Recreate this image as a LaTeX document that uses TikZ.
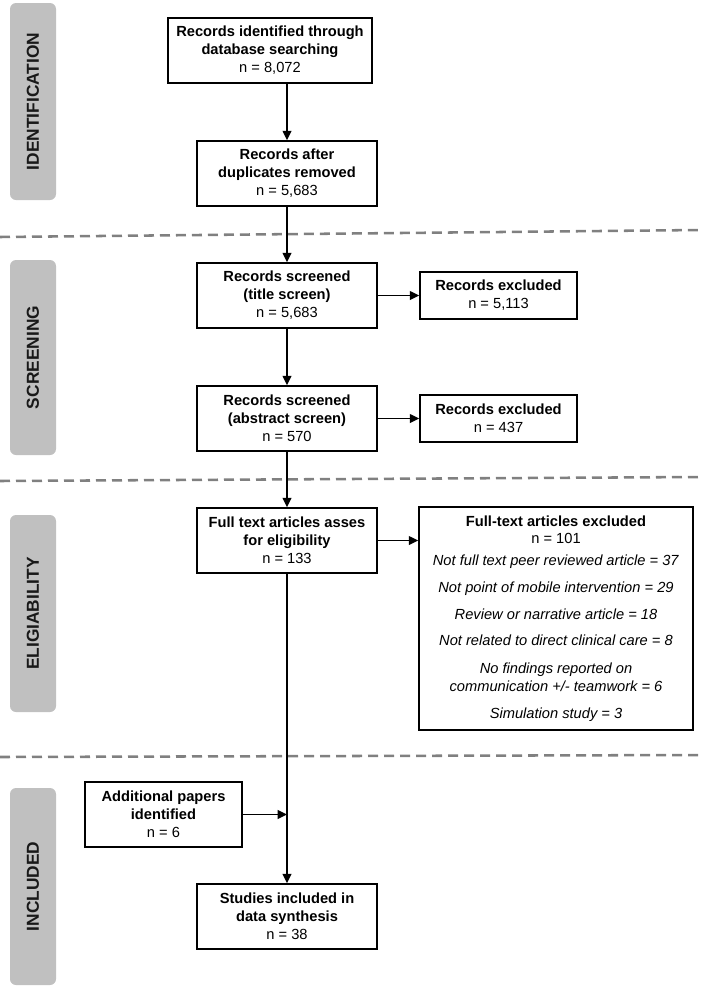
\documentclass[tikz,border=0pt]{standalone}
\usepackage{fontspec}
\setmainfont{Liberation Sans}
\usetikzlibrary{arrows.meta}
\definecolor{panelgray}{RGB}{192,192,192}
\definecolor{dashgray}{RGB}{128,128,128}
\begin{document}
\begin{tikzpicture}[x=0.75pt,y=-0.75pt,
  box/.style={draw, line width=1.2pt, align=center, inner sep=0pt,
    font=\fontsize{11}{13.5}\selectfont, fill=white},
  wide/.style={box, minimum width=153pt, minimum height=48.75pt},
  main/.style={box, minimum width=135pt, minimum height=48.75pt},
  side/.style={box, minimum width=117.75pt, minimum height=35.25pt},
  sidetall/.style={box, minimum width=117.75pt, minimum height=48.75pt},
  panel/.style={fill=panelgray, rounded corners=4.5pt, rotate=90,
    minimum width=147.75pt, minimum height=34.5pt, inner sep=0pt,
    font=\bfseries\fontsize{13}{15}\selectfont, text=black!90},
  arr/.style={line width=1.2pt, -{Triangle[length=7pt,width=6.5pt]}},
  sep/.style={draw=dashgray, line width=1.9pt, dash pattern=on 7.5pt off 4.5pt}
]
\useasboundingbox (0,0) rectangle (701,989);

% separators
\draw[sep] (0,237) -- (701,230);
\draw[sep] (0,481) -- (701,477);
\draw[sep] (0,757) -- (701,755);

% phase panels
\node[panel] (pid) at (33,101.5) {IDENTIFICATION};
\node[panel, minimum width=146.25pt] (pscr) at (33,357.5) {SCREENING};
\node[panel] (pel) at (33,613.5) {ELIGIABILITY};
\node[panel] (pinc) at (33,886.5) {INCLUDED};

% main boxes
\node[wide] (b1) at (270,50.5) {\textbf{Records identified through}\\\textbf{database searching}\\n = 8,072};
\node[main] (b2) at (287,173.5) {\textbf{Records after}\\\textbf{duplicates removed}\\n = 5,683};
\node[main] (b3) at (287,295.5) {\textbf{Records screened}\\\textbf{(title screen)}\\n = 5,683};
\node[main] (b4) at (287,418.5) {\textbf{Records screened}\\\textbf{(abstract screen)}\\n = 570};
\node[main] (b5) at (287,540.5) {\textbf{Full text articles asses}\\\textbf{for eligibility}\\n = 133};
\node[main] (b6) at (287,916.5) {\textbf{Studies included in}\\\textbf{data synthesis}\\n = 38};

% side boxes
\node[side] (e1) at (498.5,295.5) {\textbf{Records excluded}\\n = 5,113};
\node[side] (e2) at (498.5,418.5) {\textbf{Records excluded}\\n = 437};
\node[box, minimum width=205.5pt, minimum height=167.25pt] (e3) at (556,618.5)
  {\textbf{Full-text articles excluded}\\[-0.75pt]
   n = 101\\[3pt]
   \textit{Not full text peer reviewed article = 37}\\[6.75pt]
   \textit{Not point of mobile intervention = 29}\\[6.75pt]
   \textit{Review or narrative article = 18}\\[6pt]
   \textit{Not related to direct clinical care = 8}\\[7.5pt]
   \textit{No findings reported on}\\
   \textit{communication +/- teamwork = 6}\\[6.75pt]
   \textit{Simulation study = 3}};
\node[sidetall] (add) at (163.5,814.5) {\textbf{Additional papers}\\\textbf{identified}\\n = 6};

% connectors
\draw[arr] (b1.south -| b2.north) -- (b2.north);
\draw[arr] (b2.south) -- (b3.north);
\draw[arr] (b3.south) -- (b4.north);
\draw[arr] (b4.south) -- (b5.north);
\draw[arr] (b5.south) -- (b6.north);
\draw[arr] (b3.east) -- (e1.west);
\draw[arr] (b4.east) -- (e2.west);
\draw[arr] (b5.east) -- (b5.east -| e3.west);
\coordinate (join) at (b5.south |- add.east);
\draw[arr] (add.east) -- (join);
\end{tikzpicture}
\end{document}
